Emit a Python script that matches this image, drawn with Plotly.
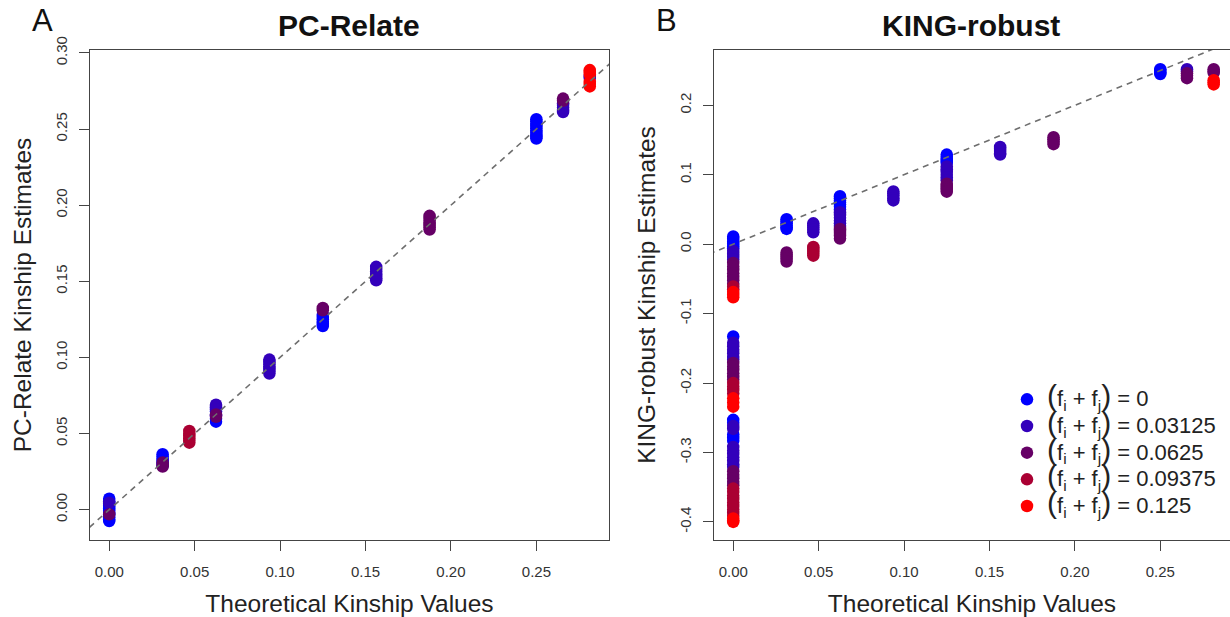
import plotly.graph_objects as go

# Inbreeding groups (f_i + f_j) and their colours
F_LEVELS = ["0", "0.03125", "0.0625", "0.09375", "0.125"]
F_COLORS = ["#0000FF", "#3300BB", "#660066", "#AA0033", "#FF0000"]

X_TICKS = [0.00, 0.05, 0.10, 0.15, 0.20, 0.25]
PCR_Y_TICKS = [0.00, 0.05, 0.10, 0.15, 0.20, 0.25, 0.30]
KING_Y_TICKS = [-0.4, -0.3, -0.2, -0.1, 0.0, 0.1, 0.2]

# ---- PC-Relate estimates: theoretical kinship (x) and estimate (y), per group
PCR_F0_X = [0.0] * 11 + [0.03125] * 6 + [0.0625] * 5 + [0.125] * 6 + [0.25] * 10
PCR_F0_Y = [0.0072, 0.0055, 0.0040, 0.0025, 0.0010, -0.0005, -0.0020, -0.0035, -0.0050, -0.0065, -0.0075,
            0.0364, 0.0350, 0.0335, 0.0320, 0.0305, 0.0290,
            0.0670, 0.0645, 0.0620, 0.0598, 0.0578,
            0.1280, 0.1265, 0.1250, 0.1235, 0.1220, 0.1206,
            0.2565, 0.2550, 0.2535, 0.2520, 0.2505, 0.2490, 0.2475, 0.2460, 0.2448, 0.2438]

PCR_F1_X = [0.0] + [0.0625] * 3 + [0.09375] * 7 + [0.15625] * 7 + [0.265625] * 5 + [0.28125] * 2
PCR_F1_Y = [0.0045,
            0.0690, 0.0675, 0.0660,
            0.0986, 0.0970, 0.0955, 0.0940, 0.0925, 0.0910, 0.0894,
            0.1595, 0.1580, 0.1565, 0.1550, 0.1535, 0.1520, 0.1507,
            0.2612, 0.2627, 0.2642, 0.2657, 0.2670,
            0.2835, 0.2850]

PCR_F2_X = [0.0] + [0.03125] * 3 + [0.0625] * 2 + [0.125] * 2 + [0.1875] * 7 + [0.265625] * 2
PCR_F2_Y = [-0.0030,
            0.0310, 0.0295, 0.0283,
            0.0625, 0.0610,
            0.1325, 0.1310,
            0.1930, 0.1915, 0.1900, 0.1885, 0.1870, 0.1855, 0.1840,
            0.2685, 0.2700]

PCR_F3_X = [0.046875] * 6
PCR_F3_Y = [0.0517, 0.0500, 0.0485, 0.0470, 0.0455, 0.0440]

PCR_F4_X = [0.28125] * 6
PCR_F4_Y = [0.2887, 0.2875, 0.2860, 0.2810, 0.2795, 0.2780]

# ---- KING-robust estimates, per group
KING_F0_X = [0.0] * 12 + [0.03125] * 6 + [0.0625] * 7 + [0.125] * 5 + [0.25] * 4
KING_F0_Y = [0.011, 0.0075, 0.004, 0.0005, -0.003, -0.006,
             -0.133, -0.253, -0.257, -0.274, -0.279, -0.283,
             0.036, 0.033, 0.030, 0.027, 0.024, 0.022,
             0.069, 0.066, 0.063, 0.060, 0.057, 0.054, 0.050,
             0.129, 0.126, 0.123, 0.120, 0.117,
             0.252, 0.2495, 0.247, 0.245]

KING_F1_X = [0.0] * 19 + [0.046875] * 5 + [0.0625] * 6 + [0.09375] * 5 + [0.125] * 6 \
    + [0.15625] * 5 + [0.265625] * 2
KING_F1_Y = [-0.010, -0.014, -0.018, -0.022,
             -0.142, -0.147, -0.152, -0.157, -0.162, -0.166, -0.262, -0.266,
             -0.292, -0.297, -0.302, -0.307, -0.312, -0.317, -0.321,
             0.030, 0.027, 0.024, 0.021, 0.017,
             0.046, 0.042, 0.038, 0.034, 0.030, 0.026,
             0.076, 0.073, 0.070, 0.066, 0.063,
             0.112, 0.108, 0.104, 0.100, 0.096, 0.092,
             0.140, 0.137, 0.134, 0.131, 0.129,
             0.252, 0.249]

KING_F2_X = [0.0] * 18 + [0.03125] * 5 + [0.0625] * 5 + [0.125] * 5 + [0.1875] * 4 \
    + [0.265625] * 3 + [0.28125] * 3
KING_F2_Y = [-0.027, -0.032, -0.037, -0.042, -0.047, -0.052, -0.057,
             -0.171, -0.176, -0.181, -0.186, -0.191, -0.195,
             -0.327, -0.332, -0.337, -0.342, -0.347,
             -0.012, -0.015, -0.018, -0.021, -0.025,
             0.022, 0.019, 0.016, 0.012, 0.008,
             0.087, 0.084, 0.081, 0.078, 0.0756,
             0.154, 0.151, 0.148, 0.144,
             0.246, 0.243, 0.239,
             0.252, 0.249, 0.247]

KING_F3_X = [0.0] * 15 + [0.046875] * 5
KING_F3_Y = [-0.061, -0.065,
             -0.200, -0.205, -0.210, -0.215, -0.352, -0.357, -0.362, -0.367,
             -0.372, -0.377, -0.382, -0.387, -0.391,
             -0.004, -0.007, -0.010, -0.013, -0.0165]

KING_F4_X = [0.0] * 9 + [0.28125] * 3
KING_F4_Y = [-0.069, -0.073, -0.0766,
             -0.222, -0.228, -0.234, -0.395, -0.398, -0.400,
             0.236, 0.233, 0.230]

PCR_SERIES = [(PCR_F0_X, PCR_F0_Y), (PCR_F1_X, PCR_F1_Y), (PCR_F2_X, PCR_F2_Y),
              (PCR_F3_X, PCR_F3_Y), (PCR_F4_X, PCR_F4_Y)]
KING_SERIES = [(KING_F0_X, KING_F0_Y), (KING_F1_X, KING_F1_Y), (KING_F2_X, KING_F2_Y),
               (KING_F3_X, KING_F3_Y), (KING_F4_X, KING_F4_Y)]

# identity line endpoints
DIAG = [-0.05, 0.35]

FONT = "Liberation Sans, Arial, Helvetica, sans-serif"
W, H = 1230, 617
AX_COLOR = "#444444"
MARKER_SIZE = 12.5


def legend_label(level):
    big = '<span style="font-size:30px">%s</span>'
    return ('<span style="font-size:22px">' + (big % "(") + "f<sub>i</sub> + f<sub>j</sub>"
            + (big % ")") + " = " + level + "</span>")


fig = go.Figure()

for panel, series in (("1", PCR_SERIES), ("2", KING_SERIES)):
    xa = "x" if panel == "1" else "x2"
    ya = "y" if panel == "1" else "y2"
    for i, (xs, ys) in enumerate(series):
        fig.add_trace(go.Scatter(
            x=xs, y=ys, mode="markers", xaxis=xa, yaxis=ya,
            marker=dict(color=F_COLORS[i], size=MARKER_SIZE, line=dict(width=0)),
            name=legend_label(F_LEVELS[i]), legendgroup=F_LEVELS[i],
            showlegend=(panel == "2"), hoverinfo="x+y"))

for xa, ya in (("x", "y"), ("x2", "y2")):
    fig.add_trace(go.Scatter(
        x=DIAG, y=DIAG, mode="lines", xaxis=xa, yaxis=ya, showlegend=False,
        line=dict(color="#6e6e6e", width=1.6, dash="6px,5px"), hoverinfo="skip"))


def px_x(p):
    return p / W


def px_y(p):
    return 1 - p / H


common_axis = dict(
    showline=True, mirror=True, linecolor=AX_COLOR, linewidth=1,
    ticks="outside", ticklen=10, tickcolor=AX_COLOR, tickwidth=1,
    showgrid=False, zeroline=False,
    tickfont=dict(family=FONT, size=15, color="#333333"),
    automargin=False,
)

TITLE_FONT = dict(family=FONT, size=24.5, color="#222222")
x_title = dict(text="Theoretical Kinship Values", font=TITLE_FONT, standoff=16)

fig.update_layout(
    width=W, height=H,
    margin=dict(l=0, r=0, t=0, b=0),
    paper_bgcolor="white", plot_bgcolor="white",
    font=dict(family=FONT, color="#222222"),
    xaxis=dict(domain=[px_x(90), px_x(609)], range=[-0.01125, 0.2925],
               tickvals=X_TICKS, ticktext=["%.2f" % v for v in X_TICKS],
               ticklabelstandoff=8, title=x_title, anchor="y", **common_axis),
    yaxis=dict(domain=[px_y(540), px_y(50)], range=[-0.0199, 0.3019],
               tickvals=PCR_Y_TICKS, ticktext=["%.2f" % v for v in PCR_Y_TICKS],
               tickangle=-90, anchor="x", ticklabelstandoff=6,
               title=dict(text="PC-Relate Kinship Estimates", font=TITLE_FONT, standoff=14),
               **common_axis),
    xaxis2=dict(domain=[px_x(714), 1.0], range=[-0.01125, 0.2908],
                tickvals=X_TICKS, ticktext=["%.2f" % v for v in X_TICKS],
                ticklabelstandoff=8, title=x_title, anchor="y2", **common_axis),
    yaxis2=dict(domain=[px_y(540), px_y(50)], range=[-0.426, 0.2796],
                tickvals=KING_Y_TICKS, ticktext=["%.1f" % v for v in KING_Y_TICKS],
                tickangle=-90, anchor="x2", ticklabelstandoff=6,
                title=dict(text="KING-robust Kinship Estimates", font=TITLE_FONT, standoff=14),
                **common_axis),
    legend=dict(x=px_x(1007), y=px_y(381), xanchor="left", yanchor="top",
                font=dict(family=FONT, size=18.2, color="#222222"),
                bgcolor="rgba(0,0,0,0)", borderwidth=0, tracegroupgap=0,
                itemclick=False, itemdoubleclick=False),
    showlegend=True,
    annotations=[
        dict(text="<b>PC-Relate</b>", x=px_x(349.5), y=px_y(25), xref="paper", yref="paper",
             showarrow=False, xanchor="center", yanchor="middle",
             font=dict(family=FONT, size=30, color="#111111")),
        dict(text="<b>KING-robust</b>", x=px_x(971), y=px_y(25), xref="paper", yref="paper",
             showarrow=False, xanchor="center", yanchor="middle",
             font=dict(family=FONT, size=30, color="#111111")),
        dict(text="A", x=px_x(42), y=px_y(21), xref="paper", yref="paper",
             showarrow=False, xanchor="center", yanchor="middle",
             font=dict(family=FONT, size=31, color="#111111")),
        dict(text="B", x=px_x(666), y=px_y(21), xref="paper", yref="paper",
             showarrow=False, xanchor="center", yanchor="middle",
             font=dict(family=FONT, size=31, color="#111111")),
    ],
)

fig.write_html("out.html")
